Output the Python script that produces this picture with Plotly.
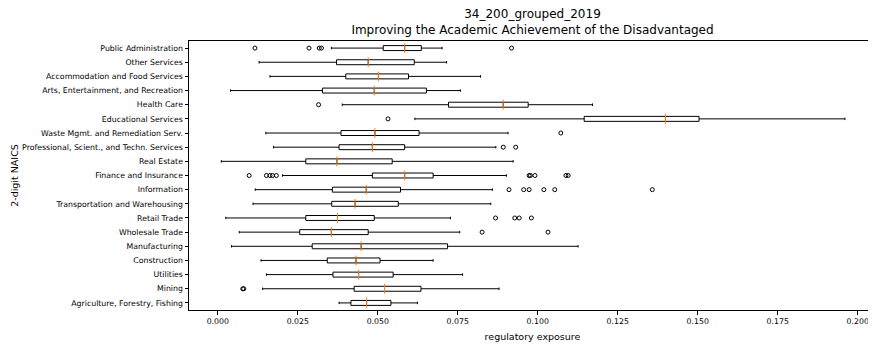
import plotly.graph_objects as go

categories = [
    "Agriculture, Forestry, Fishing", "Mining", "Utilities", "Construction",
    "Manufacturing", "Wholesale Trade", "Retail Trade", "Transportation and Warehousing",
    "Information", "Finance and Insurance", "Real Estate",
    "Professional, Scient., and Techn. Services", "Waste Mgmt. and Remediation Serv.",
    "Educational Services", "Health Care", "Arts, Entertainment, and Recreation",
    "Accommodation and Food Services", "Other Services", "Public Administration",
]
lower_whisker = [0.0379, 0.0140, 0.0152, 0.0135, 0.0043, 0.0067, 0.0025, 0.0110, 0.0117, 0.0202,
                 0.0011, 0.0174, 0.0150, 0.0616, 0.0389, 0.0040, 0.0163, 0.0129, 0.0355]
q1_values = [0.0416, 0.0426, 0.0360, 0.0342, 0.0295, 0.0256, 0.0275, 0.0356, 0.0358, 0.0483,
             0.0275, 0.0379, 0.0385, 0.1145, 0.0721, 0.0327, 0.0400, 0.0371, 0.0517]
median_values = [0.0465, 0.0521, 0.0440, 0.0432, 0.0448, 0.0355, 0.0374, 0.0429, 0.0464, 0.0584,
                 0.0372, 0.0483, 0.0491, 0.1399, 0.0892, 0.0489, 0.0502, 0.0470, 0.0584]
q3_values = [0.0541, 0.0635, 0.0548, 0.0507, 0.0718, 0.0470, 0.0489, 0.0564, 0.0571, 0.0673,
             0.0545, 0.0584, 0.0629, 0.1504, 0.0970, 0.0652, 0.0596, 0.0614, 0.0636]
upper_whisker = [0.0624, 0.0879, 0.0765, 0.0673, 0.1126, 0.0756, 0.0727, 0.0853, 0.0858, 0.0902,
                 0.0923, 0.0869, 0.0907, 0.1960, 0.1171, 0.0758, 0.0821, 0.0715, 0.0701]
outliers = [
    [], [0.0078, 0.0081], [], [], [], [0.0826, 0.1032],
    [0.0868, 0.0928, 0.0942, 0.0980], [],
    [0.0910, 0.0956, 0.0973, 0.1019, 0.1053, 0.1358],
    [0.0098, 0.0152, 0.0163, 0.0171, 0.0183, 0.0973, 0.0977, 0.0991, 0.1088, 0.1095],
    [], [0.0892, 0.0931], [0.1072], [0.0532], [0.0315], [], [], [],
    [0.0116, 0.0285, 0.0317, 0.0324, 0.0918],
]
x_ticks = [0.0, 0.025, 0.05, 0.075, 0.1, 0.125, 0.15, 0.175, 0.2]
x_tick_labels = ["0.000", "0.025", "0.050", "0.075", "0.100", "0.125", "0.150", "0.175", "0.200"]

FONT = "DejaVu Sans"
# the page body has an 8px default margin, so the figure is sized to fill the rest
FIG_W, FIG_H = 868, 338

fig = go.Figure()
fig.add_trace(go.Box(
    y=categories, q1=q1_values, median=median_values, q3=q3_values,
    lowerfence=lower_whisker, upperfence=upper_whisker,
    orientation="h", boxpoints=False,
    line=dict(color="black", width=1), fillcolor="rgba(0,0,0,0)",
    whiskerwidth=0.5, showlegend=False, hoverinfo="skip",
))
# orange median lines
fig.add_trace(go.Scatter(
    x=median_values, y=categories, mode="markers",
    marker=dict(symbol="line-ns", size=7, color="#ff7f0e",
                line=dict(color="#ff7f0e", width=1)),
    showlegend=False, hoverinfo="skip",
))
# outliers
ox, oy = [], []
for cat, pts in zip(categories, outliers):
    for p in pts:
        ox.append(p)
        oy.append(cat)
fig.add_trace(go.Scatter(
    x=ox, y=oy, mode="markers",
    marker=dict(symbol="circle-open", size=4, color="black", line=dict(width=1)),
    showlegend=False, hoverinfo="skip",
))

fig.update_layout(
    width=FIG_W, height=FIG_H,
    margin=dict(l=181, r=0, t=33, b=36, autoexpand=False),
    paper_bgcolor="white", plot_bgcolor="white",
    font=dict(family=FONT, color="black", size=7.8),
    boxgap=0.5,
    title=dict(
        text="34_200_grouped_2019<br>Improving the Academic Achievement of the Disadvantaged",
        x=0.5, xref="paper", xanchor="center",
        yref="container", y=1 - 10 / FIG_H, yanchor="top",
        font=dict(family=FONT, size=12, color="black"),
    ),
)
fig.update_xaxes(
    automargin=False,
    range=[-0.0090, 0.2057], tickvals=x_ticks, ticktext=x_tick_labels,
    showgrid=False, zeroline=False, showline=True, mirror=True,
    linecolor="black", linewidth=1, ticks="outside", ticklen=3.5, tickcolor="black",
    tickfont=dict(size=7.8),
    title=dict(text="regulatory exposure", font=dict(size=9.5), standoff=8),
)
fig.update_yaxes(
    automargin=False,
    type="category", categoryorder="array", categoryarray=categories,
    range=[-0.5, 18.5],
    showgrid=False, zeroline=False, showline=True, mirror=True,
    linecolor="black", linewidth=1, ticks="outside", ticklen=3.5, tickcolor="black",
    tickfont=dict(size=7.8),
    title=dict(text="2-digit NAICS", font=dict(size=9.5), standoff=1),
)

fig.write_html("out.html")
